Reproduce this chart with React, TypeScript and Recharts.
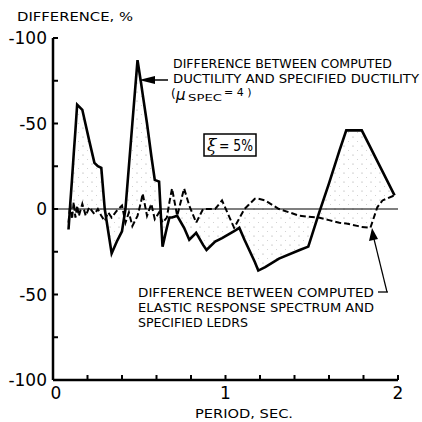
import React from 'react';
import { ComposedChart, Line, Area, XAxis, YAxis, ReferenceLine } from 'recharts';

// period (sec) shared by both difference curves
const period = [
  0.09, 0.1, 0.11, 0.12, 0.13, 0.14, 0.15, 0.17, 0.19, 0.21, 0.24, 0.26, 0.28, 0.3, 0.32, 0.34,
  0.37, 0.4, 0.42, 0.44, 0.46, 0.49, 0.51, 0.52, 0.545, 0.57, 0.59, 0.615, 0.635, 0.66, 0.675,
  0.69, 0.72, 0.76, 0.79, 0.83, 0.87, 0.89, 0.94, 0.98, 1.05, 1.08, 1.11, 1.17, 1.19, 1.23,
  1.31, 1.43, 1.48, 1.54, 1.6, 1.66, 1.7, 1.77, 1.79, 1.84, 1.88, 1.91, 1.98,
];

// computed ductility vs specified ductility (mu_spec = 4), %
const ductilityDiff = [
  12, -3, -17, -32, -46, -61, -60, -58, -49, -40, -27, -25, -24, 0, 13, 26,
  19, 13, 0, -25, -50, -87, -74, -67, -50, -31, -17, -16, 22, 11, 5,
  5, 4, 11, 18, 14, 21, 24, 19, 17, 13, 11, 18, 31, 36, 34,
  29, 24, 22, 3, -15, -34, -46, -46, -46, -36, -28, -22, -8,
];

// computed elastic response spectrum vs specified LEDRS, %
const elasticDiff = [
  8, -3, 6, -4, 5, -2, 4, -3, 4, -1, 3, 0, 4, 7, 2, 5,
  1, -2, 8, 2, 10, 4, -4, -9, 4, -3, 6, 2, 8, 5, -4,
  -12, 4, -12, -2, 8, 0, 0, 0, -5, 11, 5.5, 0, -6, -6, -5,
  0, 4, 4.5, 5, 6.5, 8, 8.5, 10, 10.5, 11, -1, -5, -8,
];

const periodTicks = [0, 0.2, 0.4, 0.6, 0.8, 1, 1.2, 1.4, 1.6, 1.8, 2];
const periodLabels = [0, 1, 2];
const diffTicks = [-100, -75, -50, -25, 0, 25, 50, 75, 100];
const diffLabels = [-100, -50, 0, 50, 100];

const data = period.map((p, i) => ({
  period: p,
  ductility: ductilityDiff[i],
  elastic: elasticDiff[i],
}));

const FONT = 'DejaVu Sans, sans-serif';

// ticks point inward from the axis line, only some carry a label
const YTick = (props: any) => {
  const { x, y, payload } = props;
  const v = payload.value;
  const axisX = x + 6;
  return (
    <g>
      <line x1={axisX} x2={axisX + 5} y1={y} y2={y} stroke="#000" strokeWidth={2} />
      {diffLabels.includes(v) && (
        <text x={x} y={y + 6} textAnchor="end" fontSize={17} fontFamily={FONT} fill="#000">
          {v === 0 ? '0' : `-${Math.abs(v)}`}
        </text>
      )}
    </g>
  );
};

const XTick = (props: any) => {
  const { x, y, payload } = props;
  const v = payload.value;
  const axisY = y - 4;
  return (
    <g>
      <line x1={x} x2={x} y1={axisY} y2={axisY - 5} stroke="#000" strokeWidth={2} />
      {periodLabels.includes(v) && (
        <text x={x + (v === 0 ? 3 : 0)} y={axisY + 19} textAnchor="middle" fontSize={17} fontFamily={FONT} fill="#000">
          {v}
        </text>
      )}
    </g>
  );
};

export default function App() {
  return (
    <div style={{ position: 'absolute', left: 0, top: 0, width: 422, height: 422, background: '#fff' }}>
      <ComposedChart
        width={422}
        height={422}
        data={data}
        margin={{ top: 38, right: 24, bottom: 12, left: 13 }}
      >
        <defs>
          {/* sparse stippling between the two curves */}
          <pattern id="stipple" width="9" height="9" patternUnits="userSpaceOnUse">
            <circle cx="2" cy="2" r="0.6" fill="#9a9a9a" />
            <circle cx="6.5" cy="6.5" r="0.5" fill="#c4c4c4" />
          </pattern>
        </defs>
        <XAxis
          dataKey="period"
          type="number"
          domain={[0, 2]}
          ticks={periodTicks}
          interval={0}
          height={30}
          tickSize={0}
          tickMargin={4}
          tick={<XTick />}
          axisLine={{ stroke: '#000', strokeWidth: 2.5 }}
        />
        <YAxis
          type="number"
          domain={[-100, 100]}
          reversed
          ticks={diffTicks}
          interval={0}
          width={40}
          tickSize={0}
          tickMargin={6}
          tick={<YTick />}
          axisLine={{ stroke: '#000', strokeWidth: 2.5 }}
        />
        <Area
          type="linear"
          dataKey={(d: any) => [d.elastic, d.ductility]}
          stroke="none"
          fill="url(#stipple)"
          fillOpacity={1}
          isAnimationActive={false}
        />
        <ReferenceLine y={0} stroke="#000" strokeWidth={1.2} />
        <Line
          type="linear"
          dataKey="elastic"
          stroke="#000"
          strokeWidth={2}
          strokeDasharray="6 3"
          dot={false}
          isAnimationActive={false}
        />
        <Line
          type="linear"
          dataKey="ductility"
          stroke="#000"
          strokeWidth={2.6}
          dot={false}
          isAnimationActive={false}
        />
      </ComposedChart>

      <svg
        width={422}
        height={422}
        style={{ position: 'absolute', left: 0, top: 0, pointerEvents: 'none' }}
        fontFamily={FONT}
        fill="#000"
      >
        <text x={17} y={21} fontSize={13} textLength={116} lengthAdjust="spacingAndGlyphs">
          DIFFERENCE, %
        </text>

        <text x={173} y={68} fontSize={12} textLength={219} lengthAdjust="spacingAndGlyphs">
          DIFFERENCE BETWEEN COMPUTED
        </text>
        <text x={173} y={83} fontSize={12} textLength={246} lengthAdjust="spacingAndGlyphs">
          DUCTILITY AND SPECIFIED DUCTILITY
        </text>
        <text x={171} y={98} fontSize={12}>(</text>
        <text x={176} y={100} fontSize={15} fontStyle="italic">μ</text>
        <text x={188} y={101} fontSize={9} textLength={34} lengthAdjust="spacingAndGlyphs">SPEC</text>
        <text x={224} y={96} fontSize={11}>= 4 )</text>

        <line x1={154} x2={168} y1={80} y2={80} stroke="#000" strokeWidth={1.5} />
        <polygon points="139,80 155,76 155,84" fill="#000" />

        <rect x={204} y={134} width={52} height={22} fill="none" stroke="#000" strokeWidth={1.5} />
        <text x={207} y={151} fontSize={17} fontStyle="italic" fontFamily="DejaVu Serif, serif">ξ</text>
        <text x={219} y={151} fontSize={15} textLength={34} lengthAdjust="spacingAndGlyphs">= 5%</text>

        <text x={138} y={297} fontSize={12} textLength={236} lengthAdjust="spacingAndGlyphs">
          DIFFERENCE BETWEEN COMPUTED
        </text>
        <text x={138} y={312} fontSize={12} textLength={236} lengthAdjust="spacingAndGlyphs">
          ELASTIC RESPONSE SPECTRUM AND
        </text>
        <text x={138} y={327} fontSize={12} textLength={110} lengthAdjust="spacingAndGlyphs">
          SPECIFIED LEDRS
        </text>
        <line x1={378} x2={388} y1={292} y2={292} stroke="#000" strokeWidth={1.3} />
        <line x1={387} y1={292} x2={374} y2={239} stroke="#000" strokeWidth={1.2} />
        <polygon points="372,228 369,241 378,239" fill="#000" />

        <text x={195} y={418} fontSize={13} textLength={98} lengthAdjust="spacingAndGlyphs">
          PERIOD, SEC.
        </text>
      </svg>
    </div>
  );
}
